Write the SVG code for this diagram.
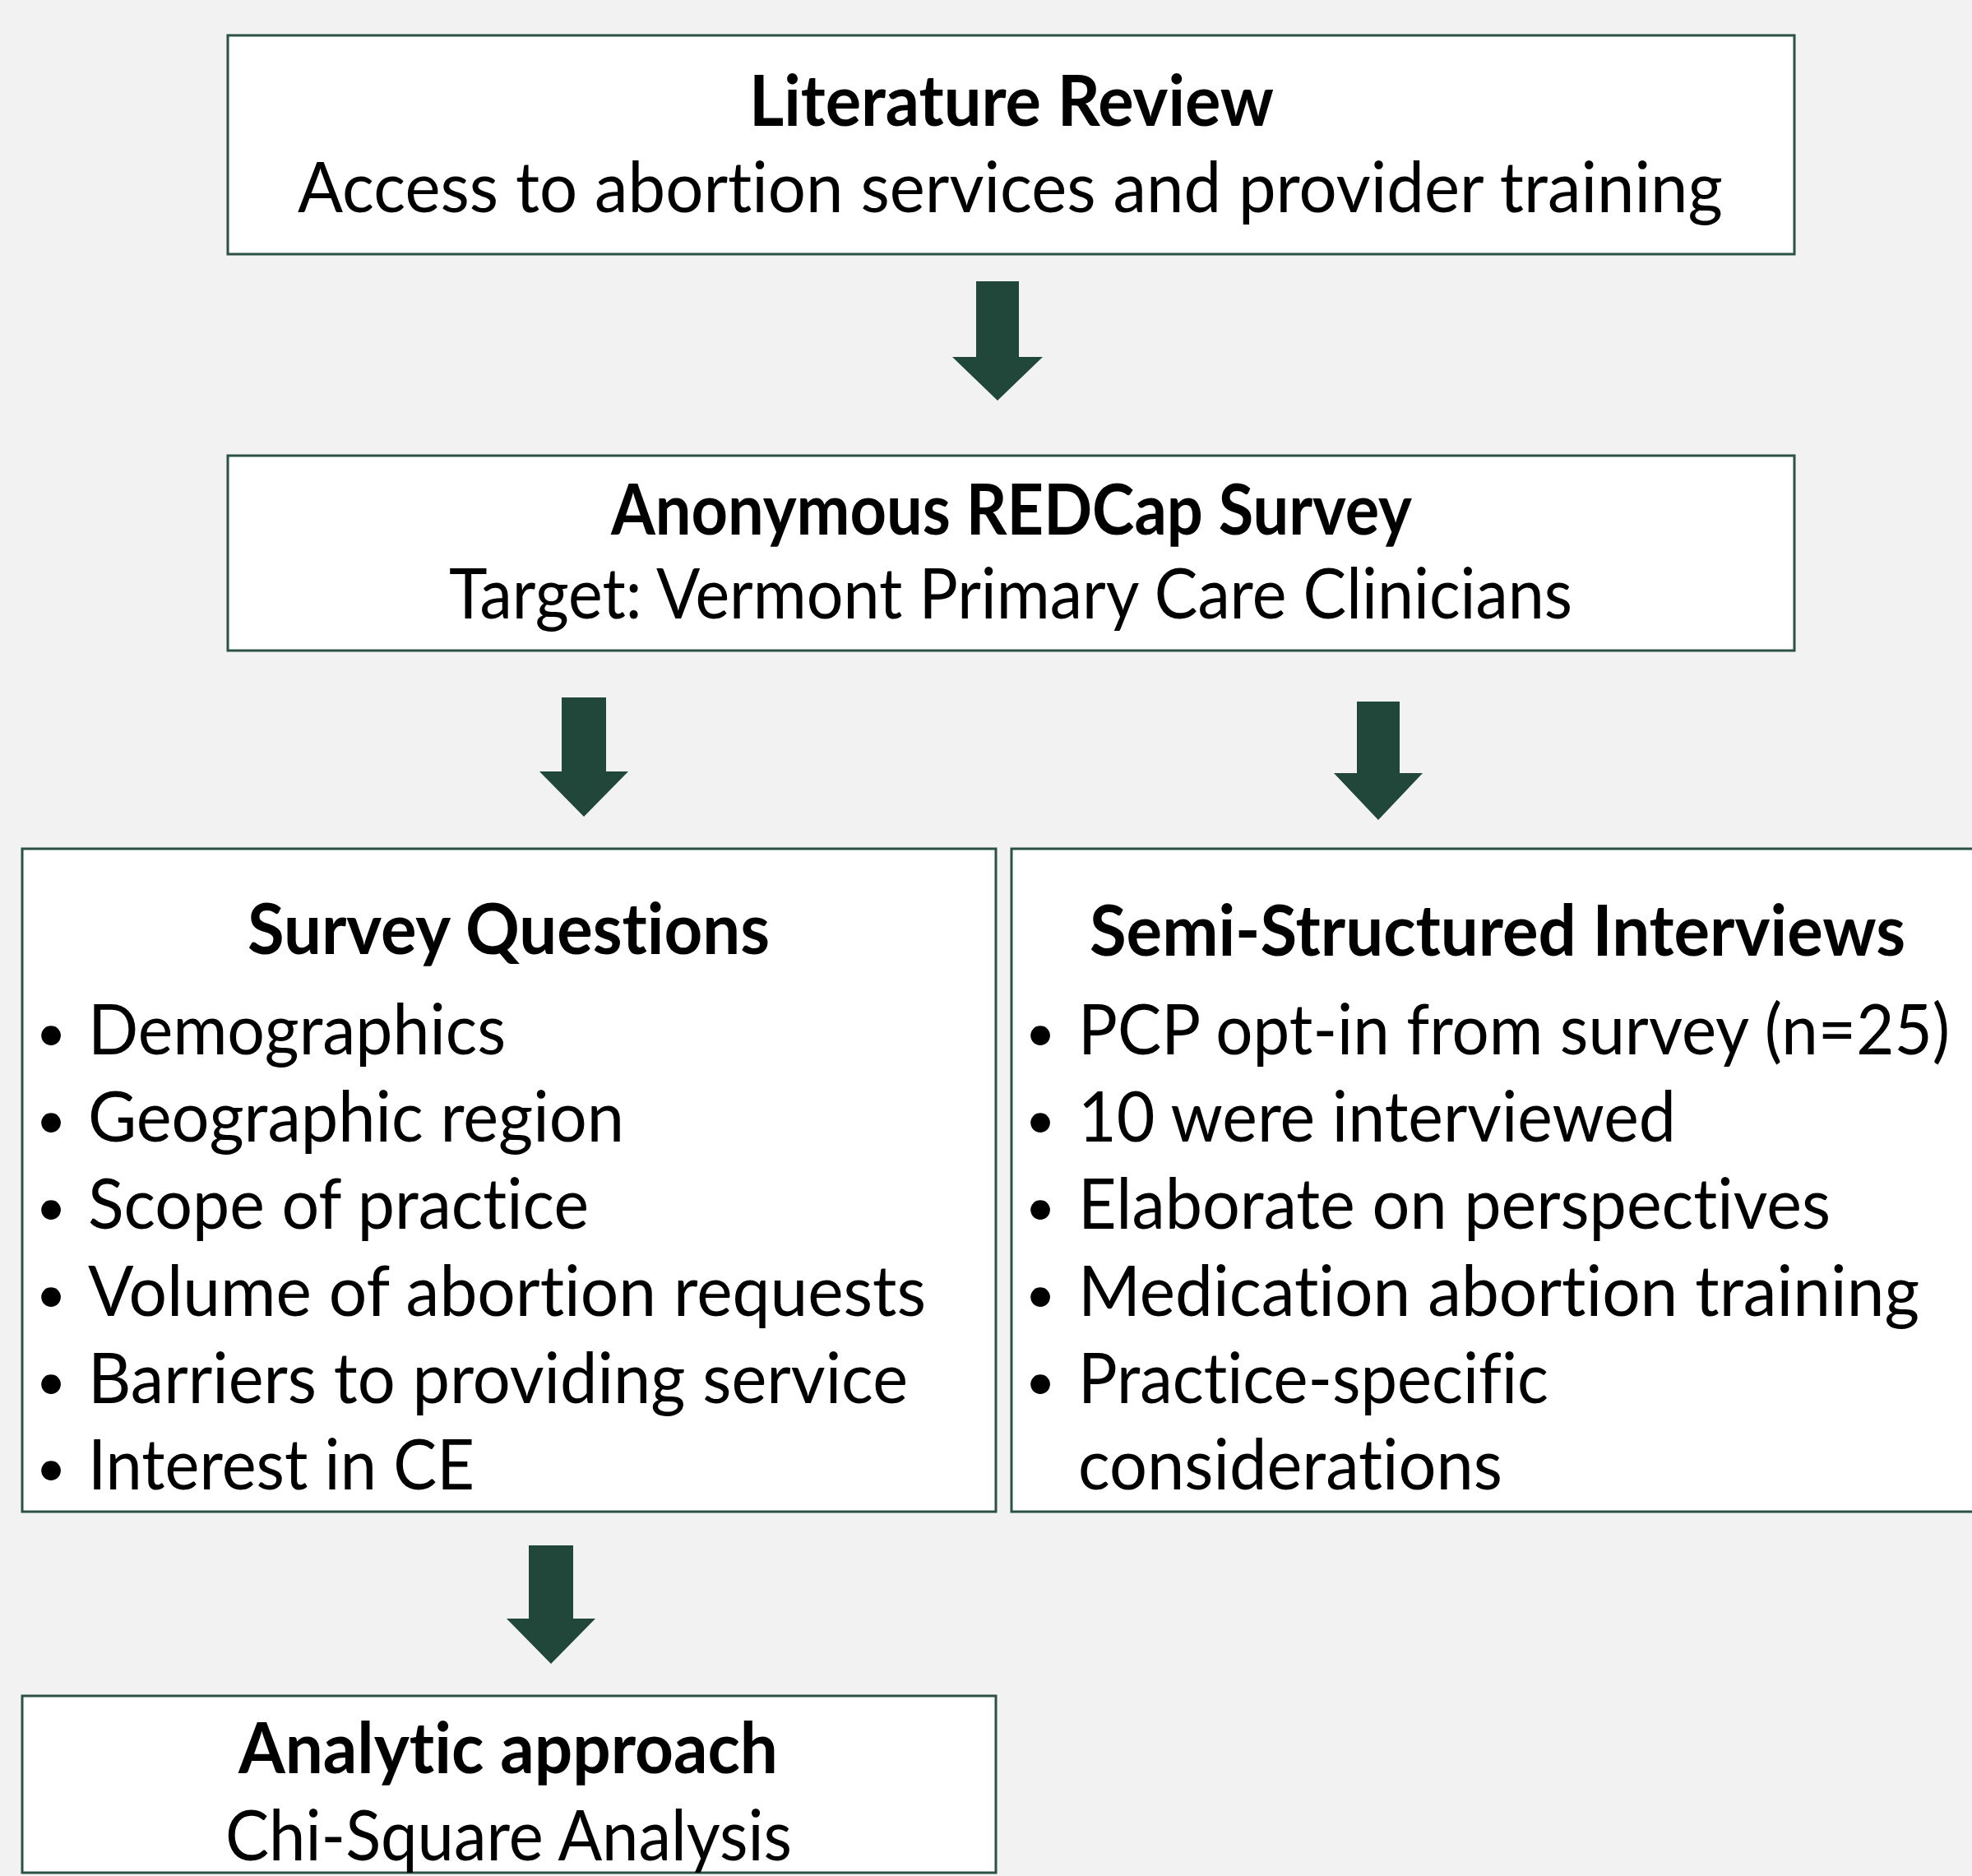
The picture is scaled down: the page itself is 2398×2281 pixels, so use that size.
<svg xmlns="http://www.w3.org/2000/svg" width="2398" height="2281" viewBox="0 0 2398 2281">
<style>
.box{fill:#ffffff;stroke:#2a5142;stroke-width:3}
.arr{fill:#21473a}
text{font-family:Lato,"Open Sans","Liberation Sans",sans-serif;font-size:86px;fill:#000;font-variant-ligatures:none}
.b{font-weight:700}
.c{text-anchor:middle}
.bu{text-anchor:middle;font-size:64px}
</style>
<rect x="0" y="0" width="2398" height="2281" fill="#f2f2f2"/>
<g id="connectors">
<polygon class="arr" points="1187,342 1239,342 1239,434 1268,434 1213,487 1158,434 1187,434"/>
<polygon class="arr" points="683,848 737,848 737,938 764,938 710,993 656,938 683,938"/>
<polygon class="arr" points="1650,853 1702,853 1702,940 1730,940 1676,997 1622,940 1650,940"/>
<polygon class="arr" points="643,1879 697,1879 697,1968 724,1968 670,2023 616,1968 643,1968"/>
</g>
<g id="literature-review">
<rect class="box" x="277" y="43" width="1905" height="266"/>
<text class="b" x="911" y="153" textLength="638" lengthAdjust="spacingAndGlyphs">Literature Review</text>
<text x="362" y="258" textLength="1733" lengthAdjust="spacingAndGlyphs">Access to abortion services and provider training</text>
</g>
<g id="redcap-survey">
<rect class="box" x="277" y="554" width="1905" height="237"/>
<text class="b" x="743" y="650" textLength="974" lengthAdjust="spacingAndGlyphs">Anonymous REDCap Survey</text>
<text x="546" y="752" textLength="1366" lengthAdjust="spacingAndGlyphs">Target: Vermont Primary Care Clinicians</text>
</g>
<g id="survey-questions">
<rect class="box" x="27" y="1032" width="1184" height="806"/>
<text class="b" x="301" y="1160" textLength="635" lengthAdjust="spacingAndGlyphs">Survey Questions</text>
<text class="bu" x="62" y="1278">•</text>
<text x="107" y="1282" textLength="508" lengthAdjust="spacingAndGlyphs">Demographics</text>
<text class="bu" x="62" y="1384">•</text>
<text x="107" y="1388" textLength="652" lengthAdjust="spacingAndGlyphs">Geographic region</text>
<text class="bu" x="62" y="1490">•</text>
<text x="107" y="1494" textLength="609" lengthAdjust="spacingAndGlyphs">Scope of practice</text>
<text class="bu" x="62" y="1596">•</text>
<text x="107" y="1600" textLength="1019" lengthAdjust="spacingAndGlyphs">Volume of abortion requests</text>
<text class="bu" x="62" y="1702">•</text>
<text x="107" y="1706" textLength="997" lengthAdjust="spacingAndGlyphs">Barriers to providing service</text>
<text class="bu" x="62" y="1807">•</text>
<text x="107" y="1811" textLength="470" lengthAdjust="spacingAndGlyphs">Interest in CE</text>
</g>
<g id="semi-structured-interviews">
<rect class="box" x="1230" y="1032" width="1190" height="806"/>
<text class="b" x="1325" y="1162" textLength="992" lengthAdjust="spacingAndGlyphs">Semi-Structured Interviews</text>
<text class="bu" x="1265" y="1278">•</text>
<text x="1311" y="1282" textLength="1060" lengthAdjust="spacingAndGlyphs">PCP opt-in from survey (n=25)</text>
<text class="bu" x="1265" y="1384">•</text>
<text x="1311" y="1388" textLength="727" lengthAdjust="spacingAndGlyphs">10 were interviewed</text>
<text class="bu" x="1265" y="1490">•</text>
<text x="1311" y="1494" textLength="915" lengthAdjust="spacingAndGlyphs">Elaborate on perspectives</text>
<text class="bu" x="1265" y="1596">•</text>
<text x="1311" y="1600" textLength="1023" lengthAdjust="spacingAndGlyphs">Medication abortion training</text>
<text class="bu" x="1265" y="1702">•</text>
<text x="1311" y="1706" textLength="572" lengthAdjust="spacingAndGlyphs">Practice-specific</text>
<text x="1311" y="1811" textLength="516" lengthAdjust="spacingAndGlyphs">considerations</text>
</g>
<g id="analytic-approach">
<rect class="box" x="27" y="2062" width="1184" height="215"/>
<text class="b" x="290" y="2156" textLength="656" lengthAdjust="spacingAndGlyphs">Analytic approach</text>
<text x="274" y="2262" textLength="689" lengthAdjust="spacingAndGlyphs">Chi-Square Analysis</text>
</g>
</svg>
